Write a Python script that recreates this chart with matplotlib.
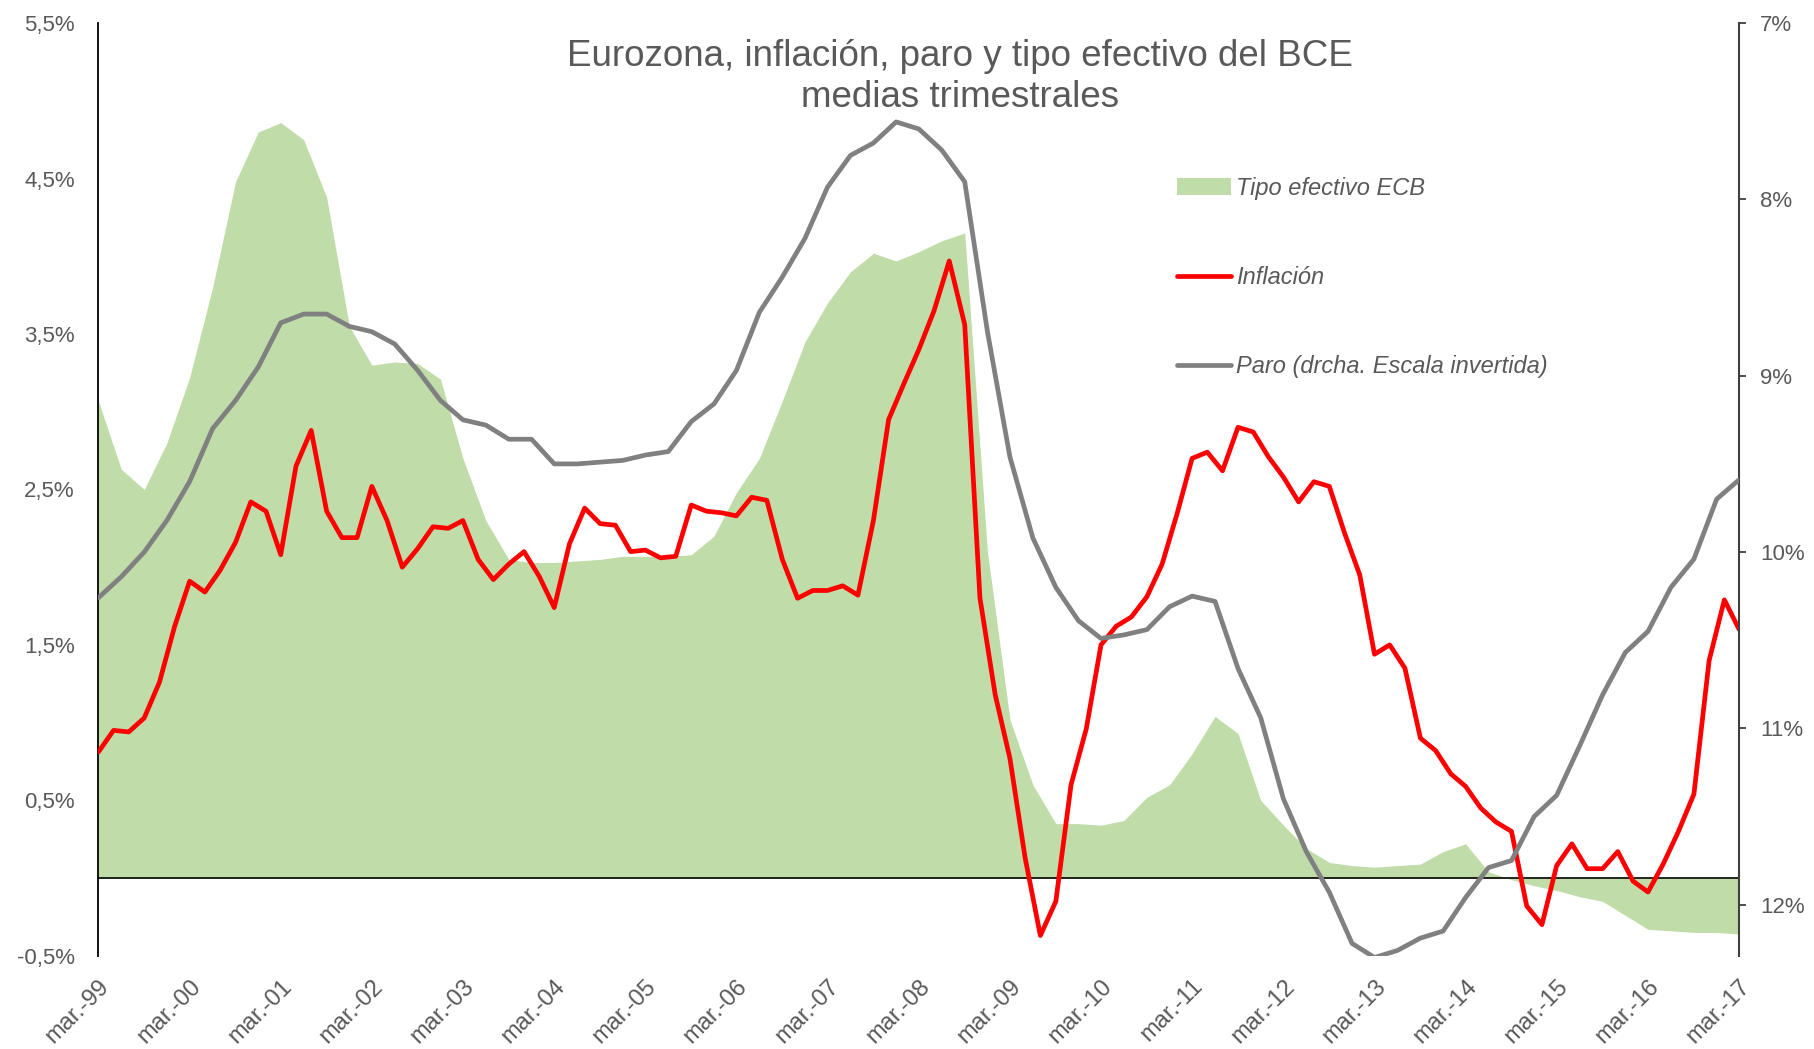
import numpy as np
import pandas as pd
import matplotlib
matplotlib.use("Agg")
import matplotlib.pyplot as plt
from matplotlib.patches import Patch
from matplotlib.lines import Line2D

plt.rcParams['font.family'] = ['Liberation Sans', 'DejaVu Sans']

# --- data ---
# quarterly sampling, mar-99 .. mar-17
dates_q = pd.date_range("1999-03-01", "2017-03-01", freq="3MS")
# bimonthly sampling for the inflation line (more wiggles)
dates_b = pd.date_range("1999-03-01", "2017-03-01", freq="2MS")

ecb_rate = [
    3.07, 2.63, 2.50, 2.80, 3.22, 3.80, 4.48, 4.80, 4.86, 4.75,
    4.38, 3.55, 3.30, 3.32, 3.31, 3.21, 2.70, 2.30, 2.05, 2.03,
    2.03, 2.04, 2.05, 2.07, 2.07, 2.07, 2.08, 2.20, 2.48, 2.70,
    3.07, 3.45, 3.70, 3.90, 4.02, 3.97, 4.03, 4.10, 4.15, 2.10,
    1.02, 0.60, 0.35, 0.35, 0.34, 0.37, 0.52, 0.60, 0.80, 1.04,
    0.93, 0.50, 0.34, 0.19, 0.10, 0.08, 0.07, 0.08, 0.09, 0.17,
    0.22, 0.04, -0.01, -0.05, -0.08, -0.12, -0.15, -0.24, -0.33, -0.34,
    -0.35, -0.35, -0.36,
]

inflation = [
    0.81, 0.95, 0.94, 1.03, 1.26, 1.62, 1.91, 1.84, 1.98, 2.16,
    2.42, 2.36, 2.08, 2.65, 2.88, 2.36, 2.19, 2.19, 2.52, 2.30,
    2.00, 2.12, 2.26, 2.25, 2.30, 2.05, 1.92, 2.02, 2.10, 1.94,
    1.74, 2.15, 2.38, 2.28, 2.27, 2.10, 2.11, 2.06, 2.07, 2.40,
    2.36, 2.35, 2.33, 2.45, 2.43, 2.05, 1.80, 1.85, 1.85, 1.88,
    1.82, 2.30, 2.95, 3.18, 3.40, 3.65, 3.97, 3.56, 1.80, 1.18,
    0.77, 0.13, -0.37, -0.15, 0.60, 0.96, 1.50, 1.62, 1.68, 1.81,
    2.02, 2.35, 2.70, 2.74, 2.62, 2.90, 2.87, 2.71, 2.58, 2.42,
    2.55, 2.52, 2.22, 1.95, 1.44, 1.50, 1.35, 0.90, 0.82, 0.67,
    0.59, 0.45, 0.36, 0.30, -0.18, -0.30, 0.08, 0.22, 0.06, 0.06,
    0.17, -0.02, -0.09, 0.09, 0.30, 0.54, 1.40, 1.79, 1.60,
]

unemployment = [
    10.26, 10.14, 10.00, 9.82, 9.60, 9.30, 9.14, 8.95, 8.70, 8.65,
    8.65, 8.72, 8.75, 8.82, 8.97, 9.14, 9.25, 9.28, 9.36, 9.36,
    9.50, 9.50, 9.49, 9.48, 9.45, 9.43, 9.26, 9.16, 8.97, 8.64,
    8.44, 8.22, 7.93, 7.75, 7.68, 7.56, 7.60, 7.72, 7.90, 8.75,
    9.46, 9.92, 10.20, 10.39, 10.49, 10.47, 10.44, 10.31, 10.25, 10.28,
    10.66, 10.94, 11.40, 11.70, 11.93, 12.22, 12.30, 12.26, 12.19, 12.15,
    11.96, 11.79, 11.75, 11.50, 11.38, 11.10, 10.81, 10.57, 10.45, 10.20,
    10.04, 9.70, 9.59,
]

tick_dates = pd.date_range("1999-03-01", "2017-03-01", freq="12MS")
tick_labels = ["mar.-" + d.strftime("%y") for d in tick_dates]
left_ticks = [-0.5, 0.5, 1.5, 2.5, 3.5, 4.5, 5.5]
right_ticks = [7, 8, 9, 10, 11, 12]

GREEN = "#c0dca9"
RED = "#ff0000"
GREY = "#808080"
TXT = "#595959"

fig = plt.figure(figsize=(18.14, 10.49), dpi=100)
ax = fig.add_axes([0.0542, 0.0889, 0.9045, 0.889])

ax.fill_between(dates_q, 0, ecb_rate, color=GREEN, lw=0, zorder=1)
ax.axhline(0, color="black", lw=1.2, zorder=2)
ax.plot(dates_b, inflation, color=RED, lw=3.4, zorder=3,
        solid_capstyle="round", solid_joinstyle="round")

ax.set_xlim(dates_q[0], dates_q[-1])
ax.set_ylim(-0.5, 5.5)
ax.set_yticks(left_ticks)
ax.set_yticklabels([f"{v:.1f}%".replace(".", ",") for v in left_ticks])
ax.set_xticks(tick_dates)
ax.set_xticklabels(tick_labels, rotation=45, ha="right", va="top",
                   rotation_mode="anchor")
ax.tick_params(axis="y", length=0, pad=17, labelsize=16, labelcolor=TXT)
ax.tick_params(axis="x", length=0, pad=14, labelsize=17, labelcolor=TXT)

for side in ["top", "right", "bottom"]:
    ax.spines[side].set_visible(False)
ax.spines["left"].set_color("black")
ax.spines["left"].set_linewidth(1.3)

ax2 = ax.twinx()
ax2.plot(dates_q, unemployment, color=GREY, lw=3.4, zorder=3,
         solid_capstyle="round", solid_joinstyle="round")
ax2.set_ylim(12.29, 7)
ax2.set_yticks(right_ticks)
ax2.set_yticklabels([f"{v}%" for v in right_ticks])
ax2.tick_params(axis="y", length=5, width=1.3, color="#404040", pad=10,
                labelsize=16, labelcolor=TXT)
for side in ["top", "left", "bottom"]:
    ax2.spines[side].set_visible(False)
ax2.spines["right"].set_color("#404040")
ax2.spines["right"].set_linewidth(1.5)

fig.text(0.529, 0.927, "Eurozona, inflación, paro y tipo efectivo del BCE\nmedias trimestrales",
         ha="center", va="center", fontsize=26.5, color=TXT, linespacing=1.22)

handles = [
    Patch(facecolor=GREEN, edgecolor="none"),
    Line2D([0], [0], color=RED, lw=3.4, solid_capstyle="round"),
    Line2D([0], [0], color=GREY, lw=3.4, solid_capstyle="round"),
]
labels = ["Tipo efectivo ECB", "Inflación", "Paro (drcha. Escala invertida)"]
leg = ax2.legend(handles, labels, loc="upper left",
                 bbox_to_anchor=(0.6426, 0.8425), bbox_transform=fig.transFigure,
                 frameon=False, borderpad=0, labelspacing=2.8,
                 handlelength=2.25, handleheight=0.7, handletextpad=0.24,
                 prop={"style": "italic", "size": 17})
for t in leg.get_texts():
    t.set_color(TXT)

fig.savefig("out.png", dpi=100)
